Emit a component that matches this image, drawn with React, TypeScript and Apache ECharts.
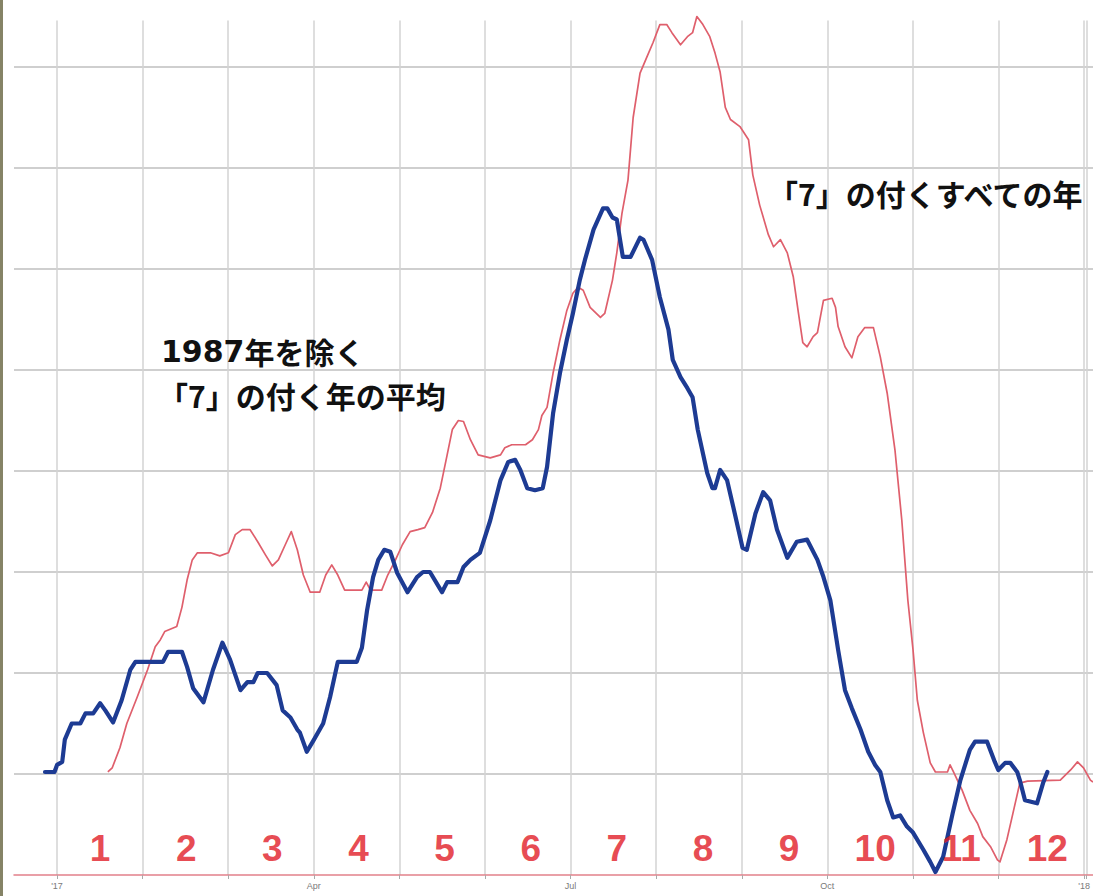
import React, { useEffect, useRef } from 'react';
import * as echarts from 'echarts';

// Month numbers printed along the bottom (one per month band)
const monthLabels = ['1', '2', '3', '4', '5', '6', '7', '8', '9', '10', '11', '12'];
// x-axis tick labels (month index -> text)
const tickPositions = [0, 3, 6, 9, 12];
const tickTexts = ["'17", 'Apr', 'Jul', 'Oct', "'18"];

// 「7」の付くすべての年 (all years ending in 7) — [month, value]
const allSevenYears: [number, number][] = [
  [0.59, 1.02], [0.64, 1.06], [0.73, 1.26], [0.81, 1.5], [0.93, 1.76], [1.05, 2.03], [1.14, 2.26],
  [1.2, 2.33], [1.25, 2.41], [1.39, 2.46], [1.45, 2.65], [1.51, 2.92], [1.57, 3.12], [1.63, 3.19],
  [1.78, 3.19], [1.89, 3.16], [1.99, 3.19], [2.07, 3.37], [2.15, 3.42], [2.24, 3.42], [2.33, 3.3],
  [2.42, 3.17], [2.5, 3.06], [2.57, 3.12], [2.65, 3.27], [2.72, 3.4], [2.79, 3.22], [2.86, 2.97],
  [2.94, 2.8], [3.05, 2.8], [3.12, 2.97], [3.19, 3.07], [3.26, 2.97], [3.34, 2.82], [3.54, 2.82],
  [3.59, 2.9], [3.64, 2.82], [3.77, 2.82], [3.84, 2.97], [3.93, 3.12], [4.01, 3.27], [4.1, 3.4],
  [4.19, 3.42], [4.27, 3.44], [4.36, 3.59], [4.45, 3.83], [4.53, 4.16], [4.59, 4.41], [4.66, 4.5],
  [4.72, 4.49], [4.8, 4.31], [4.89, 4.16], [5.03, 4.13], [5.15, 4.16], [5.2, 4.23], [5.28, 4.26],
  [5.44, 4.26], [5.52, 4.31], [5.59, 4.41], [5.63, 4.55], [5.69, 4.63], [5.76, 4.97], [5.84, 5.3],
  [5.92, 5.59], [5.99, 5.76], [6.05, 5.82], [6.11, 5.79], [6.19, 5.62], [6.31, 5.52], [6.36, 5.56],
  [6.45, 5.89], [6.5, 6.16], [6.56, 6.55], [6.63, 6.88], [6.69, 7.5], [6.77, 7.94], [6.85, 8.1],
  [6.92, 8.24], [7.0, 8.42], [7.08, 8.42], [7.14, 8.34], [7.24, 8.22], [7.32, 8.3], [7.38, 8.34],
  [7.43, 8.5], [7.5, 8.42], [7.58, 8.3], [7.64, 8.14], [7.7, 7.95], [7.76, 7.6], [7.82, 7.48],
  [7.93, 7.41], [8.03, 7.28], [8.08, 6.93], [8.16, 6.63], [8.26, 6.34], [8.32, 6.22], [8.4, 6.29],
  [8.48, 6.16], [8.55, 5.92], [8.61, 5.56], [8.66, 5.27], [8.71, 5.23], [8.78, 5.33], [8.83, 5.37],
  [8.9, 5.69], [9.0, 5.71], [9.04, 5.62], [9.07, 5.43], [9.15, 5.23], [9.23, 5.12], [9.3, 5.33],
  [9.38, 5.42], [9.48, 5.42], [9.56, 5.13], [9.64, 4.77], [9.73, 4.21], [9.81, 3.51], [9.88, 2.72],
  [9.94, 2.23], [9.99, 1.73], [10.06, 1.41], [10.14, 1.11], [10.2, 1.02], [10.34, 1.02], [10.37, 1.09],
  [10.41, 1.02], [10.51, 0.84], [10.6, 0.64], [10.69, 0.51], [10.75, 0.38], [10.84, 0.28], [10.92, 0.15],
  [10.95, 0.13], [11.03, 0.35], [11.1, 0.61], [11.18, 0.91], [11.27, 0.93], [11.65, 0.94], [11.77, 1.04],
  [11.85, 1.12], [11.92, 1.06], [12.0, 0.94], [12.03, 0.92],
];

// 1987年を除く「7」の付く年の平均 (average of 7-years excluding 1987) — [month, value]
const avgExcl1987: [number, number][] = [
  [-0.14, 1.02], [-0.03, 1.02], [0, 1.09], [0.06, 1.12], [0.09, 1.34], [0.17, 1.5], [0.27, 1.5],
  [0.33, 1.6], [0.42, 1.6], [0.5, 1.7], [0.56, 1.63], [0.65, 1.51], [0.75, 1.73], [0.85, 2.03],
  [0.91, 2.11], [1.23, 2.11], [1.29, 2.21], [1.45, 2.21], [1.51, 2.06], [1.58, 1.85], [1.7, 1.71],
  [1.81, 2.03], [1.92, 2.3], [2.01, 2.13], [2.13, 1.83], [2.21, 1.91], [2.28, 1.91], [2.33, 2.0],
  [2.44, 2.0], [2.55, 1.88], [2.62, 1.63], [2.71, 1.56], [2.79, 1.44], [2.82, 1.41], [2.9, 1.22],
  [2.97, 1.32], [3.09, 1.5], [3.17, 1.76], [3.26, 2.11], [3.48, 2.11], [3.54, 2.25], [3.6, 2.62],
  [3.67, 2.95], [3.73, 3.12], [3.8, 3.22], [3.87, 3.2], [3.95, 2.99], [4.07, 2.8], [4.18, 2.95],
  [4.25, 3.0], [4.33, 3.0], [4.47, 2.8], [4.53, 2.9], [4.65, 2.9], [4.72, 3.05], [4.8, 3.12],
  [4.91, 3.19], [5.03, 3.51], [5.15, 3.91], [5.24, 4.09], [5.32, 4.11], [5.38, 4.01], [5.46, 3.83],
  [5.55, 3.81], [5.64, 3.83], [5.69, 4.04], [5.76, 4.57], [5.84, 4.97], [5.92, 5.3], [5.99, 5.56],
  [6.07, 5.89], [6.13, 6.09], [6.23, 6.39], [6.34, 6.6], [6.39, 6.6], [6.45, 6.51], [6.5, 6.49],
  [6.57, 6.12], [6.66, 6.12], [6.77, 6.31], [6.81, 6.29], [6.91, 6.09], [7.0, 5.72], [7.1, 5.4],
  [7.15, 5.1], [7.24, 4.93], [7.32, 4.82], [7.38, 4.73], [7.44, 4.41], [7.55, 3.98], [7.61, 3.83],
  [7.64, 3.83], [7.7, 4.01], [7.78, 3.91], [7.87, 3.58], [7.96, 3.24], [8.01, 3.22], [8.11, 3.58],
  [8.2, 3.79], [8.28, 3.71], [8.36, 3.42], [8.48, 3.14], [8.59, 3.3], [8.71, 3.32], [8.83, 3.12],
  [8.9, 2.95], [8.98, 2.72], [9.07, 2.23], [9.15, 1.83], [9.23, 1.65], [9.33, 1.44], [9.42, 1.22],
  [9.5, 1.09], [9.56, 1.02], [9.64, 0.74], [9.71, 0.57], [9.79, 0.59], [9.87, 0.48], [9.94, 0.42],
  [10.06, 0.25], [10.14, 0.13], [10.2, 0.03], [10.29, 0.18], [10.4, 0.61], [10.49, 0.94], [10.6, 1.24],
  [10.66, 1.32], [10.8, 1.32], [10.89, 1.12], [10.93, 1.04], [11.01, 1.11], [11.07, 1.11], [11.15, 1.02],
  [11.18, 0.94], [11.24, 0.74], [11.38, 0.71], [11.45, 0.91], [11.5, 1.02],
];

const labelAvgYear = '1987';
const labelAvg1 = '年を除く';
const labelAvg2 = '「7」の付く年の平均';
const labelAll = '「7」の付くすべての年';

export default function App() {
  const ref = useRef<HTMLDivElement>(null);
  useEffect(() => {
    if (!ref.current) return;
    const chart = echarts.init(ref.current, undefined, { renderer: 'svg' });
    const jp = '"Noto Sans CJK JP", "Noto Sans", sans-serif';
    const top = 16.5;
    const bottom = 21;
    chart.setOption({
      animation: false,
      backgroundColor: '#ffffff',
      grid: [
        // data grid: starts half a month before January
        { left: 14, right: 0, top, bottom, containLabel: false },
        // month grid: January at its left edge (vertical grid lines, ticks, labels)
        { left: 57, right: 0, top: top + 4, bottom, containLabel: false },
      ],
      xAxis: [
        {
          type: 'value',
          gridIndex: 0,
          min: -0.5,
          max: 12.03,
          axisLine: { show: true, lineStyle: { color: '#e2808a', width: 1.5 } },
          axisTick: { show: false },
          axisLabel: { show: false },
          splitLine: { show: false },
        },
        {
          type: 'value',
          gridIndex: 1,
          min: 0,
          max: 12.03,
          interval: 1,
          axisLine: { show: false },
          axisTick: { show: true, length: 4, lineStyle: { color: '#aaaaaa' } },
          axisLabel: {
            show: true,
            fontSize: 9,
            color: '#7a7a7a',
            margin: 6,
            showMinLabel: true,
            showMaxLabel: true,
            formatter: (v: number) => {
              const i = tickPositions.findIndex((p) => Math.abs(p - v) < 1e-6);
              return i >= 0 ? tickTexts[i] : '';
            },
          },
          splitLine: { show: true, lineStyle: { color: '#d3d3d3', width: 1.5 } },
        },
      ],
      yAxis: [
        {
          type: 'value',
          gridIndex: 0,
          min: 0,
          max: 8.5,
          interval: 1,
          axisLine: { show: false },
          axisTick: { show: false },
          axisLabel: { show: false },
          splitLine: {
            show: true,
            showMinLine: false,
            showMaxLine: false,
            lineStyle: { color: '#cfcfcf', width: 1.8 },
          },
        },
        {
          type: 'value',
          gridIndex: 1,
          min: 0,
          max: 8.5,
          interval: 1,
          axisLine: { show: false },
          axisTick: { show: false },
          axisLabel: { show: false },
          splitLine: { show: false },
        },
      ],
      series: [
        {
          name: labelAll,
          type: 'line',
          xAxisIndex: 0,
          yAxisIndex: 0,
          data: allSevenYears,
          showSymbol: false,
          clip: false,
          lineStyle: { color: '#df5f6c', width: 1.7, join: 'round' },
          z: 2,
        },
        {
          name: labelAvgYear + labelAvg1 + labelAvg2,
          type: 'line',
          xAxisIndex: 0,
          yAxisIndex: 0,
          data: avgExcl1987,
          showSymbol: false,
          clip: false,
          lineStyle: { color: '#1d3b93', width: 4.2, join: 'round', cap: 'round' },
          z: 3,
        },
        {
          type: 'scatter',
          xAxisIndex: 0,
          yAxisIndex: 0,
          silent: true,
          symbolSize: 0,
          z: 5,
          data: monthLabels.map((m, i) => ({ value: [i + 0.5, 0.26], name: m })),
          label: {
            show: true,
            position: 'inside',
            formatter: (p: any) => p.name,
            color: '#e11b25',
            fontSize: 37,
            fontWeight: 'bold',
            fontFamily: '"Liberation Sans", Arial, sans-serif',
          },
        },
      ],
      graphic: [
        { type: 'rect', z: 101, shape: { x: 0, y: 0, width: 3, height: 896 }, style: { fill: '#858366' } },
        {
          type: 'text', z: 100, x: 161, y: 351,
          style: {
            text: '{d|' + labelAvgYear + '}' + labelAvg1,
            fill: '#111111', fontSize: 30, fontWeight: 'bold', fontFamily: jp, verticalAlign: 'middle',
            rich: { d: { fontSize: 30, fontWeight: 'bold', fontFamily: '"DejaVu Sans", sans-serif', fill: '#111111' } },
          },
        },
        {
          type: 'text', z: 100, x: 158, y: 395,
          style: { text: labelAvg2, fill: '#111111', fontSize: 30, fontWeight: 'bold', fontFamily: jp, verticalAlign: 'middle' },
        },
        {
          type: 'text', z: 100, x: 768, y: 193,
          style: { text: labelAll, fill: '#111111', fontSize: 30, fontWeight: 'bold', fontFamily: jp, verticalAlign: 'middle' },
        },
      ],
    });
    return () => chart.dispose();
  }, []);
  return (
    <div
      ref={ref}
      style={{ position: 'fixed', left: 0, top: 0, width: 1093, height: 896, background: '#fff' }}
    />
  );
}
